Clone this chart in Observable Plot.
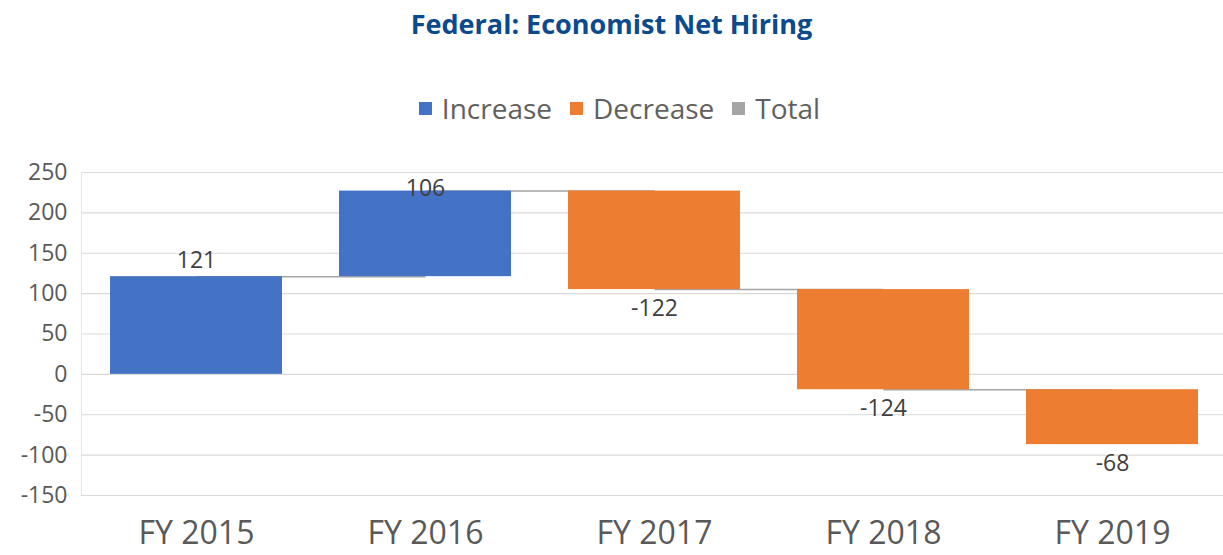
<!DOCTYPE html>
<html>
<head>
<meta charset="utf-8">
<script src="https://cdn.jsdelivr.net/npm/d3@7"></script>
<script src="https://cdn.jsdelivr.net/npm/@observablehq/plot@0.6"></script>
<style>
  html, body { margin: 0; padding: 0; background: #fff; }
  #wrap { position: relative; width: 1223px; height: 555px; overflow: hidden; font-family: "Open Sans", sans-serif; }
  #title { position: absolute; top: 5px; left: 0; width: 1223px; text-align: center;
           font-family: "Open Sans", sans-serif; font-weight: 700; font-size: 27px; color: #0b4a8c; }
  #legend { position: absolute; top: 89px; left: 8px; width: 1223px; display: flex; justify-content: center;
            align-items: center; font-size: 28px; color: #606060; }
  .item { display: flex; align-items: center; margin: 0 9px; }
  .sw { width: 13px; height: 13px; margin-right: 10px; }
  #chart { position: absolute; top: 150px; left: 0; width: 1223px; height: 405px; }
  #chart svg { width: 1223px; height: 405px; max-width: none; }
  #chart g[aria-label^="y-axis"] text { font-size: 23px; fill: #595959; }
  #chart g[aria-label^="x-axis"] text { font-size: 32px; fill: #595959; }
</style>
</head>
<body>
<div id="wrap">
  <div id="title">Federal: Economist Net Hiring</div>
  <div id="legend"></div>
  <div id="chart"></div>
</div>
<script>
const categories = ["FY 2015", "FY 2016", "FY 2017", "FY 2018", "FY 2019"];
const changes = [121, 106, -122, -124, -68];
const legendLabels = ["Increase", "Decrease", "Total"];
const legendColors = ["#4472c4", "#ed7d31", "#a5a5a5"];
const yTicks = [-150, -100, -50, 0, 50, 100, 150, 200, 250];

// build waterfall table
let run = 0;
const data = categories.map((c, i) => {
  const start = run;
  run += changes[i];
  return {cat: c, change: changes[i], start, end: run, kind: changes[i] >= 0 ? "Increase" : "Decrease"};
});
const connectors = data.slice(0, -1).map((d, i) => ({a: d.cat, b: data[i + 1].cat, level: d.end}));

// legend
const leg = document.getElementById("legend");
legendLabels.forEach((l, i) => {
  const it = document.createElement("div");
  it.className = "item";
  const sw = document.createElement("div");
  sw.className = "sw";
  sw.style.background = legendColors[i];
  const t = document.createElement("span");
  t.textContent = l;
  it.appendChild(sw); it.appendChild(t);
  leg.appendChild(it);
});

const chart = Plot.plot({
  width: 1223,
  height: 405,
  marginTop: 22,
  marginBottom: 60,
  marginLeft: 81,
  marginRight: 0,
  style: {fontFamily: "Open Sans, sans-serif", background: "transparent"},
  x: {domain: categories, range: [81, 1227], paddingInner: 0.25, paddingOuter: 0.127, label: null, tickSize: 0, tickPadding: 26},
  y: {domain: [-150, 250], ticks: yTicks, tickFormat: d => String(d), tickSize: 0, tickPadding: 14, label: null},
  color: {domain: legendLabels, range: legendColors},
  marks: [
    Plot.ruleY(yTicks, {stroke: "#d9d9d9", strokeWidth: 1.2}),
    Plot.ruleX([0], {x: () => categories[0], stroke: "#e6e6e6", dx: -115}),
    Plot.link(connectors, {x1: "a", x2: "b", y1: "level", y2: "level", stroke: "#a5a5a5", strokeWidth: 1.5}),
    Plot.barY(data, {x: "cat", y1: "start", y2: "end", fill: "kind"}),
    Plot.text(data, {
      x: "cat",
      y: d => d.change >= 0 ? Math.min(d.end + 20, 230) : d.end - 24,
      text: d => String(d.change),
      fontSize: 23,
      fill: "#404040"
    })
  ]
});
document.getElementById("chart").appendChild(chart);
</script>
</body>
</html>
